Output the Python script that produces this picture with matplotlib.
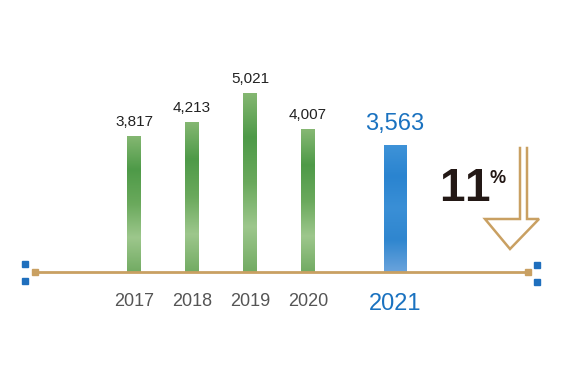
import numpy as np
import matplotlib.pyplot as plt
from matplotlib.colors import LinearSegmentedColormap

years = ['2017', '2018', '2019', '2020', '2021']
values = [3817, 4213, 5021, 4007, 3563]
xpos = [0, 1, 2, 3, 4.5]
widths = [0.23, 0.23, 0.23, 0.23, 0.38]
change = '11'

plt.rcParams['font.family'] = ['Liberation Sans', 'DejaVu Sans']

W, H = 577, 385
fig = plt.figure(figsize=(W / 100, H / 100), dpi=100)
ax = fig.add_axes([0, 0, 1, 1])

# scale: 58 px per category step, 0.0357 px per unit of value
px_x = 58.0
px_y = 179.0 / 5021
x0_px = 134
base_px = H - 272
ax.set_xlim(-x0_px / px_x, (W - x0_px) / px_x)
ax.set_ylim(-base_px / px_y, (H - base_px) / px_y)
ax.axis('off')

green = LinearSegmentedColormap.from_list('g', ['#86b873', '#4e9a48', '#6aa95c', '#9dc78c', '#72ab63'])
blue = LinearSegmentedColormap.from_list('b', ['#3f93d8', '#2a84d0', '#3a8fd6', '#2f86cf', '#6aa3dc'])
grad = np.linspace(0, 1, 256).reshape(-1, 1)

bars = ax.bar(xpos, values, width=widths, color='none', edgecolor='none')
for i, b in enumerate(bars):
    cmap = blue if i == 4 else green
    im = ax.imshow(grad, cmap=cmap, aspect='auto', origin='upper',
                   extent=[b.get_x(), b.get_x() + b.get_width(), 0, b.get_height()], zorder=2)
    im.set_clip_path(b)

# value labels
for i, (x, v) in enumerate(zip(xpos, values)):
    if i == 4:
        ax.annotate(f'{v:,}', (x, v), xytext=(0, 7), textcoords='offset points',
                    ha='center', va='bottom', fontsize=17, color='#1a72c0')
    else:
        ax.annotate(f'{v:,}', (x, v), xytext=(0, 5), textcoords='offset points',
                    ha='center', va='bottom', fontsize=11, color='#222222')

# year labels
for i, (x, y) in enumerate(zip(xpos, years)):
    if i == 4:
        ax.annotate(y, (x, 0), xytext=(0, -15), textcoords='offset points',
                    ha='center', va='top', fontsize=17, color='#1a72c0')
    else:
        ax.annotate(y, (x, 0), xytext=(0, -15), textcoords='offset points',
                    ha='center', va='top', fontsize=13, color='#555555')

# decorations in pixel coords (top-left origin)
def P(x, y):
    return x / W, 1 - y / H

tan = '#c9a062'
blue_sq = '#1f6fbd'
tr = ax.transAxes
ax.plot(*zip(P(35, 272), P(528, 272)), color=tan, lw=2, transform=tr, zorder=3)
for xx in (35, 528):
    ax.plot(*P(xx, 272), marker='s', ms=5, color=tan, transform=tr, zorder=4)
for xx, yy in [(25, 264), (25, 281), (537, 265), (537, 282)]:
    ax.plot(*P(xx, yy), marker='s', ms=5, color=blue_sq, transform=tr, zorder=4)

arrow = [(520, 148), (520, 219), (485, 219), (510, 249), (539, 219), (527, 219), (527, 148)]
ax.plot([P(*p)[0] for p in arrow], [P(*p)[1] for p in arrow], color=tan, lw=1.8,
        transform=tr, solid_joinstyle='miter', zorder=3)

# "11" with a little letter spacing
ax.text(*P(439, 201), change[0], transform=tr, fontsize=33, fontweight='bold',
        color='#231815', ha='left', va='baseline')
ax.text(*P(464, 201), change[1], transform=tr, fontsize=33, fontweight='bold',
        color='#231815', ha='left', va='baseline')
ax.text(*P(489, 183), '%', transform=tr, fontsize=13, fontweight='bold',
        color='#231815', ha='left', va='baseline')

fig.savefig('out.png', dpi=100)
